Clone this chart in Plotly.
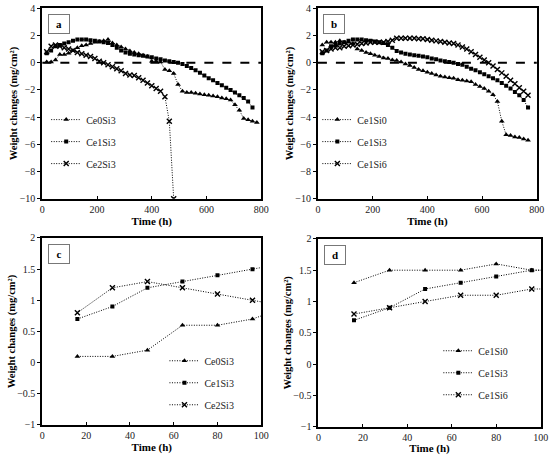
import plotly.graph_objects as go
from plotly.subplots import make_subplots

# time points (h)
time_a = [16, 32, 48, 64, 80, 96, 112, 128, 144, 160, 176, 192, 208, 224, 240, 256,
          272, 288, 304, 320, 336, 352, 368, 384, 400, 416, 432, 448, 464, 480, 496, 512,
          528, 544, 560, 576, 592, 608, 624, 640, 656, 672, 688, 704, 720, 736, 752, 768, 784]
time_c = [16, 32, 48, 64, 80, 96, 112]

# panel a
a_ce0si3 = [0.05, 0.05, 0.2, 0.6, 0.6, 0.7, 0.9, 1.1, 1.25, 1.3, 1.4, 1.5, 1.55, 1.6, 1.7, 1.45,
            1.3, 1.15, 1.0, 0.85, 0.75, 0.65, 0.55, 0.45, 0.1, 0.1, 0.05, -0.5, -0.6, -0.8, -1.6, -2.1,
            -2.2, -2.2, -2.25, -2.3, -2.35, -2.4, -2.45, -2.5, -2.6, -2.65, -2.75, -3.1, -3.5, -4.1, -4.2, -4.3, -4.4]
a_ce1si3 = [0.7, 0.9, 1.2, 1.3, 1.4, 1.5, 1.6, 1.7, 1.7, 1.7, 1.65, 1.6, 1.55, 1.5, 1.45, 1.3,
            1.1, 0.9, 0.75, 0.65, 0.6, 0.55, 0.5, 0.45, 0.4, 0.3, 0.25, 0.15, 0.1, 0.05, 0.0, -0.1,
            -0.25, -0.4, -0.55, -0.75, -0.95, -1.15, -1.3, -1.5, -1.65, -1.85, -2.0, -2.2, -2.4, -2.6, -2.85, -3.3]
a_ce2si3 = [0.8, 1.2, 1.3, 1.2, 1.1, 1.0, 0.9, 0.75, 0.65, 0.55, 0.45, 0.3, 0.1, 0.0, -0.15, -0.3,
            -0.45, -0.6, -0.8, -0.9, -0.95, -1.1, -1.3, -1.5, -1.7, -1.9, -2.1, -2.5, -4.3, -10.0]

# panel b
b_ce1si0 = [1.3, 1.5, 1.5, 1.5, 1.6, 1.5, 1.5, 1.4, 1.0, 0.9, 0.75, 0.65, 0.55, 0.45, 0.35, 0.3,
            0.2, 0.15, 0.05, -0.1, -0.2, -0.35, -0.5, -0.6, -0.7, -0.8, -0.9, -1.0, -1.05, -1.1, -1.15, -1.25,
            -1.3, -1.35, -1.4, -1.6, -1.75, -1.9, -2.1, -2.35, -2.85, -4.3, -5.3, -5.35, -5.45, -5.5, -5.6, -5.7]
b_ce1si3 = [0.7, 0.9, 1.2, 1.3, 1.4, 1.5, 1.6, 1.7, 1.7, 1.7, 1.65, 1.6, 1.55, 1.5, 1.45, 1.3,
            1.1, 0.85, 0.75, 0.65, 0.6, 0.55, 0.5, 0.45, 0.4, 0.3, 0.25, 0.15, 0.1, 0.05, 0.0, -0.1,
            -0.15, -0.3, -0.45, -0.55, -0.7, -0.85, -1.0, -1.15, -1.3, -1.5, -1.7, -1.9, -2.15, -2.4, -2.75, -3.3]
b_ce1si6 = [0.8, 0.9, 1.0, 1.1, 1.1, 1.2, 1.25, 1.3, 1.35, 1.4, 1.45, 1.5, 1.5, 1.5, 1.5, 1.55,
            1.65, 1.8, 1.8, 1.8, 1.8, 1.8, 1.75, 1.75, 1.7, 1.65, 1.6, 1.55, 1.5, 1.45, 1.4, 1.3,
            1.15, 1.0, 0.8, 0.6, 0.4, 0.2, 0.0, -0.25, -0.5, -0.75, -1.0, -1.3, -1.55, -1.85, -2.1, -2.4]

# panel c (first 100 h)
c_ce0si3 = [0.1, 0.1, 0.2, 0.6, 0.6, 0.7, 0.9]
c_ce1si3 = [0.7, 0.9, 1.2, 1.3, 1.4, 1.5, 1.6]
c_ce2si3 = [0.8, 1.2, 1.3, 1.2, 1.1, 1.0, 0.9]

# panel d (first 100 h)
d_ce1si0 = [1.3, 1.5, 1.5, 1.5, 1.6, 1.5, 1.5]
d_ce1si3 = [0.7, 0.9, 1.2, 1.3, 1.4, 1.5, 1.5]
d_ce1si6 = [0.8, 0.9, 1.0, 1.1, 1.1, 1.2, 1.2]

FONT = "Liberation Serif"
MARKERS = {"tri": dict(symbol="triangle-up", size=5),
           "sq": dict(symbol="square", size=4),
           "x": dict(symbol="x-thin", size=5, line=dict(color="black", width=1.4))}

fig = make_subplots(rows=2, cols=2)


def add_series(x, y, name, mk, row, col, legend):
    fig.add_trace(go.Scatter(
        x=x[:len(y)], y=y, name=name, mode="lines+markers",
        line=dict(color="black", width=1, dash="1px,1.5px"),
        marker=dict(color="black", **MARKERS[mk]),
        legend=legend, legendgroup=legend + name
    ), row=row, col=col)


add_series(time_a, a_ce0si3, "Ce0Si3", "tri", 1, 1, "legend")
add_series(time_a, a_ce1si3, "Ce1Si3", "sq", 1, 1, "legend")
add_series(time_a, a_ce2si3, "Ce2Si3", "x", 1, 1, "legend")

add_series(time_a, b_ce1si0, "Ce1Si0", "tri", 1, 2, "legend2")
add_series(time_a, b_ce1si3, "Ce1Si3", "sq", 1, 2, "legend2")
add_series(time_a, b_ce1si6, "Ce1Si6", "x", 1, 2, "legend2")

add_series(time_c, c_ce0si3, "Ce0Si3", "tri", 2, 1, "legend3")
add_series(time_c, c_ce1si3, "Ce1Si3", "sq", 2, 1, "legend3")
add_series(time_c, c_ce2si3, "Ce2Si3", "x", 2, 1, "legend3")

add_series(time_c, d_ce1si0, "Ce1Si0", "tri", 2, 2, "legend4")
add_series(time_c, d_ce1si3, "Ce1Si3", "sq", 2, 2, "legend4")
add_series(time_c, d_ce1si6, "Ce1Si6", "x", 2, 2, "legend4")

# zero reference line on the long-term panels
for col in (1, 2):
    fig.add_hline(y=0, line=dict(color="black", width=2, dash="dash"), row=1, col=col)

axis_common = dict(showline=True, linecolor="black", linewidth=2, mirror=True,
                   ticklen=3, tickcolor="black", showgrid=False,
                   zeroline=False, automargin=False,
                   tickfont=dict(family=FONT, size=10, color="#222"))
title_font = dict(family=FONT, size=11, color="black")
ytitle_font = dict(family=FONT, size=10.5, color="black")
ytitle = "<b>Weight changes (mg/cm²)</b>"

for r, c in ((1, 1), (1, 2)):
    fig.update_xaxes(range=[0, 800], dtick=200, ticks="inside", row=r, col=c, **axis_common,
                     title=dict(text="<b>Time (h)</b>", font=title_font, standoff=0))
    fig.update_yaxes(range=[-10, 4], dtick=2, ticks="outside", row=r, col=c, **axis_common,
                     title=dict(text=ytitle, font=ytitle_font, standoff=0))
for r, c in ((2, 1), (2, 2)):
    fig.update_xaxes(range=[0, 100], dtick=20, ticks="inside", row=r, col=c, **axis_common,
                     title=dict(text="<b>Time (h)</b>", font=title_font, standoff=0))
    fig.update_yaxes(range=[-1, 2], dtick=0.5, ticks="outside", row=r, col=c, **axis_common,
                     title=dict(text=ytitle, font=ytitle_font, standoff=0))

# panel positions
fig.update_layout(
    xaxis=dict(domain=[0.077, 0.475]), yaxis=dict(domain=[0.563, 0.982]),
    xaxis2=dict(domain=[0.578, 0.976]), yaxis2=dict(domain=[0.563, 0.982]),
    xaxis3=dict(domain=[0.077, 0.475]), yaxis3=dict(domain=[0.066, 0.477]),
    xaxis4=dict(domain=[0.579, 0.983]), yaxis4=dict(domain=[0.062, 0.475]),
)

# panel letters
for i, letter in enumerate("abcd"):
    suffix = "" if i == 0 else str(i + 1)
    fig.add_annotation(
        text="<b>%s</b>" % letter, xref="x%s domain" % suffix, yref="y%s domain" % suffix,
        x=0.025, y=0.97, xanchor="left", yanchor="top", showarrow=False,
        font=dict(family=FONT, size=11, color="black"),
        bordercolor="#777", borderwidth=1, borderpad=3, bgcolor="white", width=14, height=12
    )

legend_common = dict(font=dict(family=FONT, size=10, color="#222"), bgcolor="rgba(0,0,0,0)",
                     tracegroupgap=3, itemwidth=30, yanchor="top", xanchor="left")
fig.update_layout(
    width=550, height=455,
    margin=dict(l=0, r=0, t=0, b=0),
    paper_bgcolor="white", plot_bgcolor="white",
    legend=dict(x=0.084, y=0.769, **legend_common),
    legend2=dict(x=0.577, y=0.769, **legend_common),
    legend3=dict(x=0.299, y=0.239, **legend_common),
    legend4=dict(x=0.797, y=0.261, **legend_common),
)

# drop the browser's default page margin so the 550x455 figure fills the window
fig.write_html("out.html", config={"displayModeBar": False},
               post_script="document.body.style.margin='0';")
